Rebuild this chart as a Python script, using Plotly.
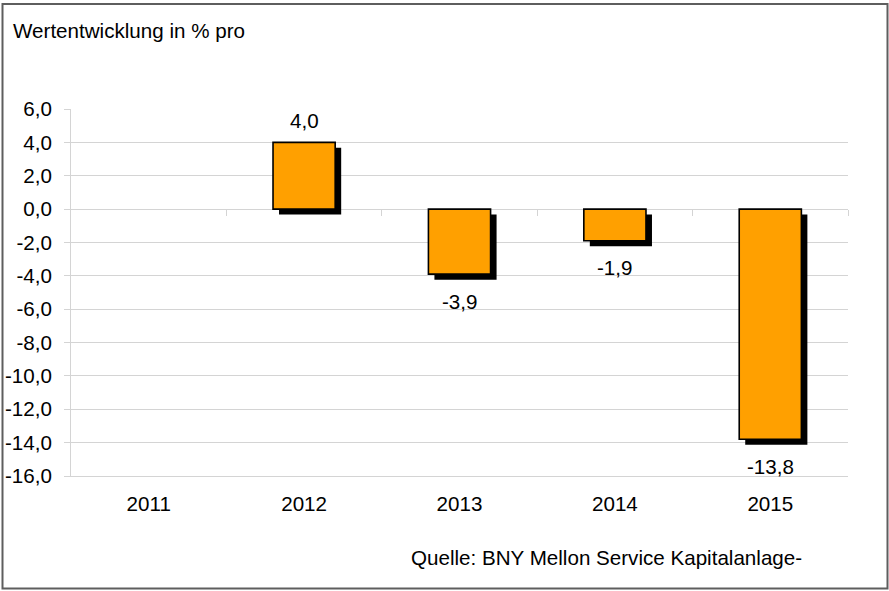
import plotly.graph_objects as go

# Annual performance, % per year
years = ["2011", "2012", "2013", "2014", "2015"]
perf = [None, 4.0, -3.9, -1.9, -13.8]

y_ticks = [6, 4, 2, 0, -2, -4, -6, -8, -10, -12, -14, -16]

title_text = "Wertentwicklung in % pro"
source_text = "Quelle: BNY Mellon Service Kapitalanlage-"


def de_num(v):
    """Format with one decimal, German decimal comma, ASCII hyphen for minus."""
    return f"{v:.1f}".replace(".", ",")


# Figure geometry (pixels)
W, H = 889, 591
ML, MR, MT, MB = 71, 41, 109, 115
PW, PH = W - ML - MR, H - MT - MB

FONT = "Liberation Sans, Arial, sans-serif"
FS = 20.6
GRID = "#D4D4D4"
ORANGE = "#FFA000"

BAR_W = 0.4
SHADOW_DX = 6 / (PW / len(years))          # 6 px to the right, in category units
Y_MIN, Y_MAX = -16, 6
SHADOW_DY = 5.5 / (PH / (Y_MAX - Y_MIN))   # ~5 px downward, in data units


def px_x(px):
    return (px - ML) / PW


def px_y(py):
    return (H - MB - py) / PH


fig = go.Figure()

# drop shadow behind each bar
fig.add_trace(go.Bar(
    x=years, y=perf, base=-SHADOW_DY,
    width=BAR_W, offset=-BAR_W / 2 + SHADOW_DX,
    marker=dict(color="black", line=dict(width=0)),
    hoverinfo="skip", showlegend=False,
))

# the bars themselves
fig.add_trace(go.Bar(
    x=years, y=perf,
    width=BAR_W, offset=-BAR_W / 2,
    marker=dict(color=ORANGE, line=dict(color="black", width=1.6)),
    hoverinfo="skip", showlegend=False,
))

# value labels (positioned by category index)
for i, v in enumerate(perf):
    if v is None:
        continue
    fig.add_annotation(
        x=i, y=v, xref="x", yref="y",
        text=de_num(v),
        showarrow=False, yanchor="middle",
        yshift=22 if v >= 0 else -27,
        font=dict(family=FONT, size=FS, color="black"),
    )

fig.add_annotation(
    x=px_x(11), y=px_y(31), xref="paper", yref="paper",
    xanchor="left", yanchor="middle", showarrow=False,
    text=title_text, font=dict(family=FONT, size=FS, color="black"),
)
fig.add_annotation(
    x=px_x(409), y=px_y(557), xref="paper", yref="paper",
    xanchor="left", yanchor="middle", showarrow=False,
    text=source_text, font=dict(family=FONT, size=FS, color="black"),
)

# outer frame
fig.add_shape(
    type="rect", xref="paper", yref="paper",
    x0=px_x(2.5), x1=px_x(887.5), y0=px_y(588.5), y1=px_y(4),
    line=dict(color="#5E5E5E", width=2), fillcolor="rgba(0,0,0,0)",
    layer="above",
)

fig.update_layout(
    width=W, height=H,
    margin=dict(l=ML, r=MR, t=MT, b=MB, pad=0, autoexpand=False),
    paper_bgcolor="white", plot_bgcolor="white",
    barmode="overlay", separators=",.",
    showlegend=False,
    font=dict(family=FONT, size=FS, color="black"),
    xaxis=dict(
        type="category", categoryarray=years, range=[-0.5, len(years) - 0.5],
        showgrid=False, zeroline=False, automargin=False,
        showline=True, linecolor=GRID, linewidth=1,
        ticks="", ticklabelstandoff=9,
        tickfont=dict(family=FONT, size=FS, color="black"),
    ),
    # category boundary ticks along the zero line
    xaxis2=dict(
        overlaying="x", anchor="free",
        position=(0 - Y_MIN) / (Y_MAX - Y_MIN),
        range=[-0.5, len(years) - 0.5],
        tickvals=[i + 0.5 for i in range(len(years))],
        ticks="outside", ticklen=6, tickcolor=GRID, tickwidth=1,
        showticklabels=False, showgrid=False, zeroline=False, showline=False,
        automargin=False,
    ),
    yaxis=dict(
        range=[Y_MIN, Y_MAX], tickvals=y_ticks,
        ticktext=[de_num(v) for v in y_ticks],
        showgrid=True, gridcolor=GRID, gridwidth=1,
        zeroline=True, zerolinecolor=GRID, zerolinewidth=1,
        showline=True, linecolor=GRID, linewidth=1,
        ticks="outside", ticklen=6, tickcolor=GRID, tickwidth=1,
        ticklabelstandoff=8, automargin=False,
        tickfont=dict(family=FONT, size=FS, color="black"),
    ),
)

# invisible trace so the boundary-tick axis is drawn
fig.add_trace(go.Scatter(x=[0], y=[0], xaxis="x2", mode="markers",
                         marker=dict(opacity=0), hoverinfo="skip",
                         showlegend=False))

fig.write_html("out.html")
